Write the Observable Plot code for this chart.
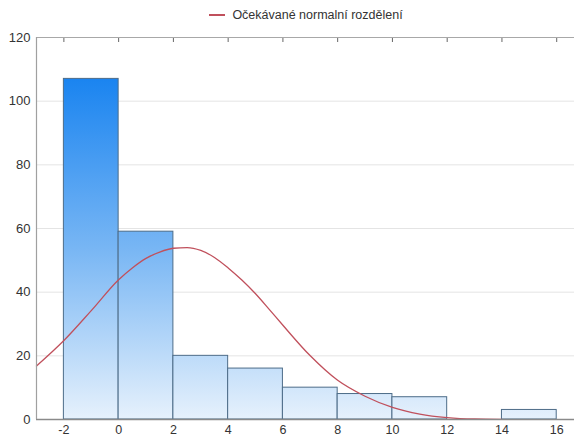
<!DOCTYPE html>
<html>
<head>
<meta charset="utf-8">
<script src="https://cdn.jsdelivr.net/npm/d3@7"></script>
<script src="https://cdn.jsdelivr.net/npm/@observablehq/plot@0.6"></script>
<style>
  html, body { margin: 0; padding: 0; background: #fff; }
  body { width: 576px; height: 437px; overflow: hidden; font-family: "Liberation Sans", Arial, sans-serif; }
  #legend { height: 30px; display: flex; align-items: center; justify-content: center; font-size: 12.5px; color: #333; padding-left: 36px; box-sizing: border-box; }
  #legend .sw { display: inline-block; width: 16px; height: 1.2px; background: #c0505c; margin-right: 7px; }
</style>
</head>
<body>
<div id="legend"><span class="sw"></span><span>Očekávané normalní rozdělení</span></div>
<div id="chart"></div>
<script>
// Histogram bins (left edges), bin width and counts
const binStart = [-2, 0, 2, 4, 6, 8, 10, 12, 14];
const binWidth = 2;
const counts = [107, 59, 20, 16, 10, 8, 7, 0, 3];

// Expected normal curve (scaled to counts)
const curveX = [-3, -2, -1, 0, 0.5, 1, 1.5, 2, 2.5, 3, 3.5, 4, 4.5, 5, 5.5, 6, 7, 8, 9, 10, 11, 12, 13, 14];
const curveY = [16.8, 24.8, 34.2, 43.9, 47.6, 50.6, 52.6, 53.8, 54.0, 53.1, 50.9, 47.6, 43.8, 39.5, 34.6, 29.6, 20.0, 12.3, 7.3, 3.8, 1.7, 0.6, 0.15, 0.05];

// Axis ticks
const xTicks = [-2, 0, 2, 4, 6, 8, 10, 12, 14, 16];
const yTicks = [0, 20, 40, 60, 80, 100, 120];
const yGrid = [20, 40, 60, 80, 100];

const bins = binStart.map((x0, i) => ({x1: x0, x2: x0 + binWidth, count: counts[i]}));
const curve = curveX.map((x, i) => ({x, y: curveY[i]}));

const plot = Plot.plot({
  width: 576,
  height: 407,
  marginTop: 7,
  marginBottom: 18,
  marginLeft: 36,
  marginRight: 2,
  style: {fontFamily: "Liberation Sans, Arial, sans-serif", color: "#333", background: "#fff"},
  x: {domain: [-3, 16.65]},
  y: {domain: [0, 120]},
  marks: [
    Plot.gridY(yGrid, {stroke: "#e4e4e4", strokeOpacity: 1, strokeWidth: 1}),
    Plot.rectY(bins.filter(d => d.count > 0), {
      x1: "x1", x2: "x2", y: "count",
      fill: "url(#barGrad)", stroke: "#4d6c88", strokeWidth: 1
    }),
    Plot.line(curve, {x: "x", y: "y", stroke: "#c0505c", strokeWidth: 1.3, curve: "monotone-x"}),
    Plot.ruleY([0], {stroke: "#8a8a8a", strokeWidth: 1.6}),
    Plot.ruleY([120], {stroke: "#a8a8a8", strokeWidth: 1.2}),
    Plot.ruleX([-3], {stroke: "#a0a0a0", strokeWidth: 1.2}),
    Plot.axisX(xTicks, {anchor: "bottom", tickSize: 0, tickPadding: 6, fontSize: 12.5, fill: "#333", tickFormat: d => String(d)}),
    Plot.axisX(xTicks, {anchor: "top", tickSize: -4, tickFormat: () => "", stroke: "#666"}),
    Plot.axisY(yTicks, {anchor: "left", tickSize: 0, tickPadding: 6, fontSize: 13, fill: "#333", tickFormat: d => String(d)})
  ]
});

// Vertical blue gradient shared by all bars, tied to the y scale
const y = plot.scale("y");
const ns = "http://www.w3.org/2000/svg";
const defs = document.createElementNS(ns, "defs");
const grad = document.createElementNS(ns, "linearGradient");
grad.setAttribute("id", "barGrad");
grad.setAttribute("gradientUnits", "userSpaceOnUse");
grad.setAttribute("x1", 0); grad.setAttribute("x2", 0);
grad.setAttribute("y1", y.apply(107)); grad.setAttribute("y2", y.apply(0));
[["0%", "#1a84f0"], ["50%", "#78b6f4"], ["100%", "#e6f1fc"]].forEach(([o, c]) => {
  const s = document.createElementNS(ns, "stop");
  s.setAttribute("offset", o); s.setAttribute("stop-color", c);
  grad.appendChild(s);
});
defs.appendChild(grad);
plot.insertBefore(defs, plot.firstChild);

document.getElementById("chart").appendChild(plot);
</script>
</body>
</html>
